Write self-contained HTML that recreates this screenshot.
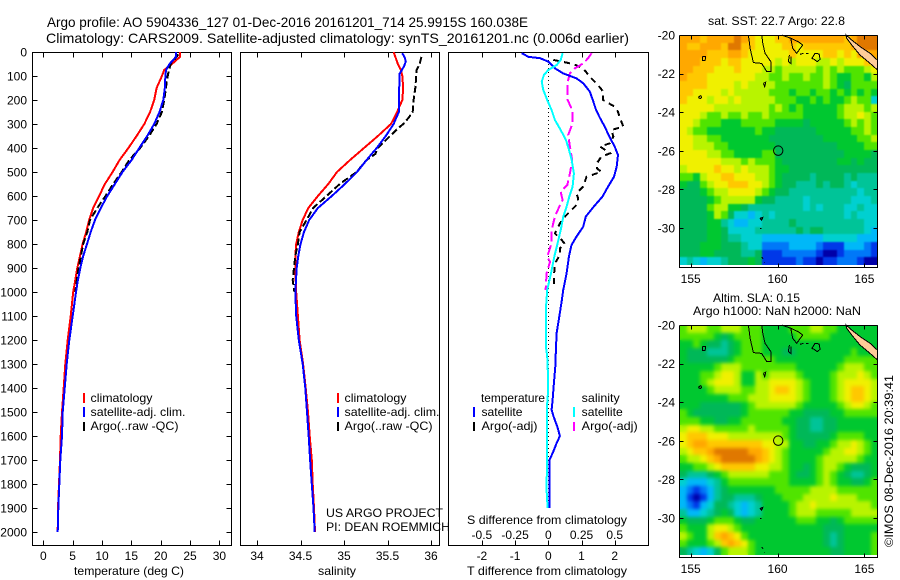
<!DOCTYPE html>
<html>
<head>
<meta charset="utf-8">
<title>Argo profile 5904336_127</title>
<style>
html,body{margin:0;padding:0;background:#fff;}
svg{display:block;font-family:"Liberation Sans",sans-serif;font-size:12px;fill:#000;}
</style>
</head>
<body>
<svg id="chart" xmlns="http://www.w3.org/2000/svg" width="900" height="580" viewBox="0 0 900 580">
<defs>
<filter id="softSla" x="0" y="0" width="1" height="1" color-interpolation-filters="sRGB"><feGaussianBlur in="SourceGraphic" stdDeviation="1.8" result="b"/><feMerge><feMergeNode in="SourceGraphic"/><feMergeNode in="b"/></feMerge></filter>
<filter id="softSst" x="0" y="0" width="1" height="1" color-interpolation-filters="sRGB"><feGaussianBlur in="SourceGraphic" stdDeviation="0.7" result="b"/><feMerge><feMergeNode in="SourceGraphic"/><feMergeNode in="b"/></feMerge></filter>
</defs>
<rect x="0" y="0" width="900" height="580" fill="#fff"/>
<text x="47" y="27" font-size="14" textLength="481" lengthAdjust="spacingAndGlyphs">Argo profile: AO 5904336_127 01-Dec-2016 20161201_714 25.9915S 160.038E</text>
<text x="46" y="43" font-size="14" textLength="583" lengthAdjust="spacingAndGlyphs">Climatology: CARS2009. Satellite-adjusted climatology: synTS_20161201.nc (0.006d earlier)</text>

<text x="74" y="575" textLength="110" lengthAdjust="spacingAndGlyphs">temperature (deg C)</text>
<text x="318" y="575" textLength="38" lengthAdjust="spacingAndGlyphs">salinity</text>
<text x="467" y="575" textLength="160" lengthAdjust="spacingAndGlyphs">T difference from climatology</text>
<text x="467" y="524" textLength="160" lengthAdjust="spacingAndGlyphs">S difference from climatology</text>

<g>
<rect x="83" y="393" width="2" height="10" fill="#f00"/>
<rect x="83" y="407" width="2" height="10" fill="#00f"/>
<rect x="83" y="422" width="2" height="9" fill="#000"/>
<text x="90.5" y="402" textLength="62" lengthAdjust="spacingAndGlyphs">climatology</text>
<text x="90.5" y="416" textLength="95" lengthAdjust="spacingAndGlyphs">satellite-adj. clim.</text>
<text x="90.5" y="430" textLength="88" lengthAdjust="spacingAndGlyphs">Argo(..raw -QC)</text>
</g>
<g>
<rect x="337" y="393" width="2" height="10" fill="#f00"/>
<rect x="337" y="407" width="2" height="10" fill="#00f"/>
<rect x="337" y="422" width="2" height="9" fill="#000"/>
<text x="344.5" y="402" textLength="62" lengthAdjust="spacingAndGlyphs">climatology</text>
<text x="344.5" y="416" textLength="95" lengthAdjust="spacingAndGlyphs">satellite-adj. clim.</text>
<text x="344.5" y="430" textLength="88" lengthAdjust="spacingAndGlyphs">Argo(..raw -QC)</text>
</g>
<text x="326" y="517" textLength="117" lengthAdjust="spacingAndGlyphs">US ARGO PROJECT</text>
<text x="326" y="531" textLength="124" lengthAdjust="spacingAndGlyphs">PI: DEAN ROEMMICH</text>

<g id="plots"></g>

<g>
<text x="481" y="402" textLength="64" lengthAdjust="spacingAndGlyphs">temperature</text>
<text x="481.5" y="416" textLength="41" lengthAdjust="spacingAndGlyphs">satellite</text>
<text x="481.5" y="430" textLength="56" lengthAdjust="spacingAndGlyphs">Argo(-adj)</text>
<rect x="473" y="407" width="2" height="10" fill="#00f"/>
<rect x="473" y="422" width="2" height="9" fill="#000"/>
<text x="581.7" y="402" textLength="38" lengthAdjust="spacingAndGlyphs">salinity</text>
<text x="581.7" y="416" textLength="41" lengthAdjust="spacingAndGlyphs">satellite</text>
<text x="581.7" y="430" textLength="56" lengthAdjust="spacingAndGlyphs">Argo(-adj)</text>
<rect x="573" y="407" width="2" height="10" fill="#0ff"/>
<rect x="573" y="422" width="2" height="9" fill="#f0f"/>
</g>

<g id="maps"></g>

<text x="708" y="25" textLength="137" lengthAdjust="spacingAndGlyphs">sat. SST: 22.7 Argo: 22.8</text>
<text x="713" y="302" textLength="87" lengthAdjust="spacingAndGlyphs">Altim. SLA: 0.15</text>
<text x="693" y="315" textLength="168" lengthAdjust="spacingAndGlyphs">Argo h1000: NaN h2000: NaN</text>
<text transform="translate(893,547) rotate(-90)" x="0" y="0" textLength="172" lengthAdjust="spacingAndGlyphs">©IMOS 08-Dec-2016 20:39:41</text>
</svg>

<script>
// ---------- profile data ----------
const depthTicks = [0,100,200,300,400,500,600,700,800,900,1000,1100,1200,1300,1400,1500,1600,1700,1800,1900,2000];
const tempTicks = [0,5,10,15,20,25,30];
const salTicks = [34,34.5,35,35.5,36];
const tDiffTicks = [-2,-1,0,1,2];
const sDiffTicks = [-0.5,-0.25,0,0.25,0.5];

const climDepths = [0,20,50,75,100,150,200,250,300,350,400,450,500,550,600,650,700,750,800,850,900,950,1000,1100,1200,1300,1400,1500,1600,1700,1800,1900,2000];
const climTemp = [23.3,23.3,21.9,20.6,20.2,19.3,18.9,18.2,17.2,15.9,14.5,13.0,11.8,10.5,9.5,8.5,7.8,7.3,6.7,6.25,5.8,5.45,5.1,4.67,4.15,3.75,3.47,3.19,2.96,2.84,2.67,2.5,2.45];
const satTemp = [22.6,22.6,21.5,20.9,20.8,20.7,20.45,19.8,18.9,17.7,16.35,15.05,13.5,12.2,10.9,9.8,8.8,8.07,7.44,6.8,6.3,5.9,5.57,5.0,4.43,3.98,3.64,3.3,3.19,2.9,2.73,2.56,2.45];
const climSal = [35.57,35.59,35.62,35.655,35.67,35.68,35.67,35.61,35.54,35.39,35.23,35.07,34.92,34.82,34.70,34.59,34.525,34.48,34.45,34.44,34.44,34.445,34.45,34.47,34.49,34.53,34.56,34.586,34.606,34.63,34.64,34.655,34.667];
const satSalDepths = [5,25,40,60,90,150,200,250,300,350,400,450,500,550,600,650,700,750,800,850,900,1000,1100,1200,1300,1400,1500,1600,1700,1800,1900,2000];
const satSal = [35.67,35.70,35.71,35.69,35.64,35.635,35.635,35.63,35.57,35.48,35.376,35.26,35.15,35.01,34.86,34.70,34.6,34.54,34.50,34.475,34.456,34.44,34.45,34.48,34.525,34.555,34.575,34.594,34.61,34.63,34.65,34.663];

const argoTempDepths = [10,30,50,75,100,125,150,200,250,300,350,400,450,500,550,600,650,700,750,800,850,900,950,1000];
const argoTemp = [23.0,22.4,21.7,21.4,21.2,21.0,20.9,20.6,20.2,19.3,18.0,16.5,14.65,13.35,11.9,10.6,9.2,7.95,7.5,6.8,6.4,6.0,5.7,5.45];
const argoSalDepths = [20,50,75,100,150,200,250,275,300,325,350,400,425,450,500,550,600,650,700,750,800,850,900,950,1000];
const argoSal = [35.89,35.87,35.835,35.83,35.82,35.80,35.79,35.74,35.68,35.6,35.53,35.39,35.36,35.26,35.145,34.95,34.80,34.645,34.57,34.49,34.47,34.44,34.425,34.41,34.43];

const tSatDepths = [5,20,26,40,68,89,110,130,165,200,242,276,311,353,394,429,478,520,561,603,644,686,728,769,804,853,922,992,1033,1102,1172,1241,1311,1380,1450,1491,1519,1561,1600,1630,1672,1700,1769,1901];
const tSatDiff = [-0.80,-0.6,-0.25,0,0.2,0.45,0.85,1.05,1.25,1.34,1.44,1.56,1.7,1.84,2.0,2.1,2.06,1.98,1.8,1.63,1.37,1.13,1.05,0.85,0.7,0.62,0.55,0.45,0.41,0.33,0.25,0.23,0.21,0.17,0.13,0.10,0.16,0.27,0.35,0.25,0.13,0.03,0.04,0.04];
const tArgoDepths = [33,50,68,103,138,165,200,228,249,276,311,325,353,380,394,422,436,464,485,499,520,561,589,610,638,658,686,714,756,783,800,818,846,881,936,985];
const tArgoDiff = [0.15,0.75,1.05,1.25,1.5,1.65,1.65,2.0,2.1,2.16,2.26,1.9,1.96,1.86,1.56,1.86,1.6,1.46,1.46,1.6,1.15,1.05,0.85,0.9,0.85,0.7,0.5,0.35,0.2,0.4,0.5,0.35,0.35,0.2,0.17,0.17];
const sSatDepths = [5,33,54,75,96,124,158,200,242,283,325,367,408,450,506,561,603,644,686,742,797,853,922,992,1068,1102,1227,1269,1338,1422,1477,1589,1686,1825,1901];
const sSatDiff = [0.108,0.093,0.063,0,-0.033,-0.05,-0.038,-0.008,0.025,0.05,0.093,0.133,0.156,0.176,0.193,0.183,0.158,0.138,0.113,0.093,0.07,0.045,0.02,-0.008,-0.018,-0.018,-0.018,-0.008,-0.003,-0.003,-0.01,-0.008,-0.01,-0.013,-0.005];
const sArgoDepths = [5,26,47,68,89,124,200,242,297,346,394,450,506,554,582,617,644,686,742,797,853,874,922,992];
const sArgoDiff = [0.326,0.30,0.264,0.2,0.163,0.146,0.146,0.18,0.183,0.15,0.163,0.18,0.163,0.143,0.093,0.108,0.083,0.05,0.025,0.025,-0.008,0.013,-0.013,-0.02];

// ---------- map data (colour class per 0.4 degree cell, north to south) ----------
const mapPalette = ['#0000a8','#0038e8','#0078f8','#00b8f8','#00d0d0','#00c498','#00b858','#00c830','#50e400','#b8f400','#f0f000','#ffc800','#ffa800','#e07800'];
const sstLevels = [
[12,12,12,11,12,12,12,12,13,12,11,10,10,10,11,11,12,12,12,12,12,12,12,12,11,12,13,13,13],
[12,11,11,12,12,12,11,13,13,11,11,10,10,10,10,11,11,10,11,11,11,11,11,11,11,12,13,13,13],
[12,12,12,12,11,11,11,12,12,11,10,10,10,10,10,10,11,10,10,10,10,11,11,10,11,10,12,12,12],
[12,12,12,11,11,11,10,11,11,10,10,10,10,10,9,10,9,10,10,10,9,9,10,9,10,10,10,11,11],
[12,12,11,11,11,10,10,10,11,10,10,10,9,9,8,9,9,9,9,9,8,9,8,9,8,8,8,9,10],
[12,11,11,11,10,10,10,10,10,10,10,9,9,8,8,9,8,8,9,8,8,9,8,7,7,8,8,7,9],
[11,11,11,11,10,10,10,10,9,10,9,9,9,9,8,8,8,8,8,8,8,9,8,7,6,8,8,8,8],
[11,11,10,10,10,10,9,10,9,9,9,9,9,8,8,8,7,8,8,7,8,8,7,8,7,8,7,8,7],
[11,10,10,10,9,10,10,9,10,9,9,9,9,9,8,8,8,7,7,8,7,8,7,7,8,9,8,8,4],
[10,10,10,10,10,9,9,9,9,9,9,9,9,8,9,8,7,8,7,7,7,7,7,8,9,9,9,8,9],
[10,10,10,9,8,8,9,8,8,9,8,8,9,8,8,8,8,8,7,7,7,7,7,8,9,9,10,9,8],
[10,10,9,8,8,8,7,7,7,8,8,8,8,8,7,7,7,7,6,7,7,7,7,7,8,9,8,9,8],
[10,9,8,8,7,7,7,7,7,7,7,8,7,7,6,6,6,6,6,6,7,7,7,7,7,8,8,9,8],
[10,10,9,9,8,8,7,7,7,7,7,7,7,6,6,6,6,6,6,6,6,7,7,7,7,7,8,8,9],
[10,10,9,9,9,8,8,7,7,7,7,7,7,7,6,6,6,6,6,6,6,6,6,7,7,7,7,8,8],
[10,10,10,10,9,9,8,8,7,7,7,7,8,8,6,6,6,6,6,6,6,6,6,6,7,7,7,7,6],
[10,10,10,10,10,10,9,9,9,8,9,8,8,8,7,6,6,6,6,6,6,6,6,7,7,6,7,6,6],
[9,10,10,10,10,11,10,10,9,10,9,9,9,8,7,7,6,6,6,6,6,6,6,6,6,6,6,6,6],
[8,8,7,9,10,10,11,11,10,10,10,9,9,8,7,6,6,6,6,5,6,6,6,6,5,6,5,5,5],
[7,6,6,8,9,10,10,11,11,11,10,10,9,8,7,6,6,5,5,5,6,5,6,6,5,4,5,5,5],
[6,6,6,7,8,9,9,10,10,10,10,9,8,7,6,6,5,5,5,5,5,5,5,5,5,5,4,5,5],
[6,6,6,6,7,8,9,9,9,9,9,7,6,6,5,5,5,5,4,5,5,5,5,5,5,4,4,4,5],
[6,6,6,6,8,9,9,7,7,6,5,5,5,5,5,5,5,5,4,5,4,5,5,5,4,4,5,4,4],
[6,6,6,6,7,9,8,6,4,4,3,4,5,4,5,5,5,5,5,5,5,5,5,5,4,5,4,4,4],
[6,6,6,6,7,7,5,4,3,3,4,4,5,5,5,5,6,5,5,5,5,5,5,5,5,5,5,4,4],
[6,6,6,6,7,7,6,4,4,4,4,5,5,5,5,5,5,6,5,6,6,5,5,5,5,5,5,4,3],
[6,6,6,6,7,7,6,5,5,4,4,4,3,3,3,3,3,3,3,3,3,4,4,4,4,4,3,3,3],
[6,6,6,7,7,7,6,6,6,5,4,4,2,2,2,2,3,3,3,3,2,1,1,1,3,3,3,2,1],
[6,6,6,7,7,6,6,6,6,5,5,6,1,1,1,2,2,2,2,2,1,0,0,1,2,2,2,2,1],
[4,5,4,3,4,4,5,6,6,6,7,6,1,1,1,1,1,2,1,1,0,1,1,2,2,2,1,0,0]
];
const slaLevels = [
[8,9,9,9,8,8,9,9,9,8,8,8,7,7,7,7,8,8,8,9,9,8,8,7,7,7,7,7,7],
[8,8,8,8,8,7,6,7,8,8,8,8,7,7,7,7,7,8,8,8,8,8,7,7,7,7,7,7,7],
[7,7,8,7,6,6,5,6,7,8,8,8,7,7,7,7,7,7,7,7,7,7,7,7,7,7,7,7,7],
[7,6,6,6,5,5,5,6,7,8,8,8,7,7,7,6,6,7,7,7,7,7,7,7,7,8,7,7,7],
[7,6,6,6,6,6,6,7,8,8,8,8,8,8,7,7,7,7,7,7,7,7,7,7,8,8,8,8,8],
[7,7,7,7,7,8,9,9,9,8,8,8,8,8,8,8,8,7,7,7,7,7,7,8,9,9,9,8,8],
[7,7,7,8,8,9,10,10,9,7,7,9,8,9,9,9,9,8,7,7,7,7,8,9,9,9,10,9,8],
[7,7,7,8,9,10,10,10,9,7,7,9,9,10,10,10,10,9,8,7,7,7,8,9,10,10,10,10,9],
[7,7,7,7,8,9,9,9,9,8,8,9,9,10,11,11,10,9,8,7,7,7,8,9,10,11,11,10,9],
[7,7,7,7,7,7,7,8,8,8,9,9,9,10,10,10,10,9,8,7,7,7,8,9,10,11,11,10,9],
[7,7,7,6,6,6,6,6,6,7,8,9,9,9,9,9,9,8,7,7,7,7,7,8,9,10,10,9,8],
[8,7,6,6,6,6,6,6,6,7,8,8,8,8,8,8,7,7,6,6,6,6,7,7,8,8,8,8,8],
[8,8,8,7,7,6,6,7,7,8,8,8,8,8,8,7,7,6,6,5,5,6,6,7,7,7,7,7,7],
[9,10,10,9,9,8,8,8,8,8,9,8,8,8,8,8,7,6,6,5,5,6,6,7,7,7,7,7,7],
[10,11,11,11,10,10,10,9,9,9,9,9,9,9,9,8,7,6,6,6,6,6,7,8,8,8,8,7,7],
[10,11,12,12,11,11,11,11,11,11,11,11,10,10,9,9,7,7,6,6,7,7,8,9,9,10,9,8,7],
[9,10,11,11,12,13,13,13,13,13,12,12,11,10,9,8,7,7,7,7,7,8,9,9,10,10,9,8,7],
[8,9,9,10,11,12,13,13,13,13,13,12,11,10,9,8,7,7,7,7,8,9,9,9,9,9,8,7,7],
[7,7,8,8,9,10,11,11,11,11,11,10,10,9,9,8,7,7,6,7,8,9,9,8,7,6,6,6,7],
[6,5,5,5,6,7,8,9,9,9,9,9,9,8,8,8,7,6,6,7,8,9,8,7,6,5,5,6,7],
[4,3,3,3,4,5,7,8,8,8,8,8,8,8,8,8,7,7,7,7,8,9,8,7,7,6,6,7,8],
[3,2,1,2,3,5,6,7,7,7,7,7,7,7,8,8,8,8,8,9,9,9,9,8,8,8,8,8,8],
[3,1,0,1,3,5,6,6,5,5,5,6,7,7,7,8,8,8,9,9,9,9,10,9,9,9,8,8,8],
[3,2,1,3,4,6,6,5,4,3,4,5,7,7,7,7,8,9,9,10,9,9,9,9,9,9,9,9,8],
[5,3,3,4,5,6,7,6,4,3,4,5,7,7,7,7,8,9,9,9,8,8,8,8,8,9,9,9,9],
[7,6,6,6,7,8,8,8,7,6,6,7,7,7,7,7,7,8,8,8,7,7,6,7,8,8,8,8,8],
[8,7,7,7,9,10,10,9,8,7,7,7,7,7,7,7,7,7,7,7,7,6,6,6,7,7,7,7,7],
[9,8,7,7,9,11,12,11,10,8,7,7,7,7,7,7,7,7,7,7,7,6,5,6,7,7,7,7,8],
[8,7,7,7,8,9,11,12,11,10,8,7,7,7,7,7,7,7,7,7,7,6,5,6,7,7,7,7,8],
[6,5,4,3,4,6,8,9,9,9,8,7,7,7,7,7,7,7,7,7,7,7,6,6,7,7,7,7,8]
];
const lonTicks = [155,160,165];
const latTicks = [-20,-22,-24,-26,-28,-30];
const profileLon = 160.038;
const profileLat = -25.9915;
const coastLines = [
 [[158.32,-20],[158.42,-20.69],[158.61,-21.43],[159.09,-21.47],[159.38,-21.9],[159.61,-21.9],[159.61,-21.38],[159.28,-20.95],[159.15,-20.43],[159.09,-20]],
 [[160.24,-20],[160.76,-20.17],[160.87,-20.69],[161.1,-20.95],[161.45,-20.52],[161.2,-20.35],[160.76,-20.17]],
 [[160.68,-21.04],[160.62,-21.38],[160.76,-21.47],[160.76,-21.12]],
 [[161.3,-21.0],[161.49,-20.95]],
 [[161.64,-20.95],[161.78,-20.95]],
 [[161.97,-21.21],[162.16,-20.95],[162.39,-20.98],[162.45,-21.26],[162.29,-21.38],[162.1,-21.26],[161.97,-21.21]],
 [[155.67,-21.12],[155.86,-21.12],[155.83,-21.33],[155.69,-21.33],[155.67,-21.12]],
 [[155.44,-23.23],[155.58,-23.14],[155.63,-23.23],[155.54,-23.3],[155.44,-23.23]],
 [[159.18,-22.5],[159.32,-22.45],[159.26,-22.68],[159.18,-22.5]],
 [[158.99,-29.5],[159.15,-29.45],[159.09,-29.59],[158.99,-29.5]],
 [[158.99,-30.02],[159.09,-30.02]],
 [[159.09,-31.52],[159.17,-31.59]],
 [[159.24,-31.8],[159.28,-31.8]]
];
const landOutline = [[163.94,-20],[164.27,-20.26],[164.75,-20.6],[165.33,-20.95],[165.75,-21.3],[165.75,-21.81],[165.33,-21.47],[164.75,-21.04],[164.27,-20.52],[163.98,-20.17]];

// ---------- scales ----------
const NS = 'http://www.w3.org/2000/svg';
const plotTop = 52, plotBottom = 545;
const depthY = d => plotTop + d * 0.24;
const tempX = v => 43.3 + 5.87 * v;
const salX = v => 257 + 87 * (v - 34);
const tDiffX = v => 548.3 + 33.2 * v;
const sDiffX = v => 548.3 + 132.8 * v;
const mapX = lon => 690.7 + 17.37 * (lon - 155);
const mapLatY = (lat, top) => top + 19.3 * (-20 - lat);
const px = v => Math.round(v) + 0.5;

function make(parent, tag, attrs, content) {
  const el = document.createElementNS(NS, tag);
  for (const k in attrs) el.setAttribute(k, attrs[k]);
  if (content !== undefined) el.textContent = content;
  parent.appendChild(el);
  return el;
}
function drawTick(parent, x1, y1, x2, y2) {
  const el = make(parent, 'line', {x1, y1, x2, y2, stroke: '#000', 'stroke-width': 1, 'shape-rendering': 'crispEdges'});
  
  
}
function drawLabel(parent, x, y, anchor, text) {
  const el = make(parent, 'text', {x, y, 'text-anchor': anchor}, text);
  
  
}
function drawProfile(parent, depths, values, xScale, color, width, dash) {
  const pts = values.map((v, i) => xScale(v).toFixed(1) + ',' + depthY(depths[i]).toFixed(1)).join(' ');
  const attrs = {points: pts, fill: 'none', stroke: color, 'stroke-width': width, 'shape-rendering': 'crispEdges'};
  if (dash) attrs['stroke-dasharray'] = dash;
  return make(parent, 'polyline', attrs);
}

const plots = document.getElementById('plots');
const panels = [
  {name: 'temperature-panel', x0: 32, x1: 231},
  {name: 'salinity-panel', x0: 240, x1: 439},
  {name: 'difference-panel', x0: 448, x1: 648}
];
const panelGroups = panels.map(function (p) {
  const g = make(plots, 'g', {});
  
  
  const frame = make(g, 'rect', {x: p.x0 + 0.5, y: plotTop + 0.5, width: p.x1 - p.x0, height: plotBottom - plotTop, fill: 'none', stroke: '#000', 'stroke-width': 1, 'shape-rendering': 'crispEdges'});
  
  
  return g;
});

// depth axis
depthTicks.forEach(function (d) {
  const y = px(depthY(d));
  drawTick(panelGroups[0], 32.5, y, 37.5, y);
  drawTick(panelGroups[0], 226.5, y, 231.5, y);
  drawLabel(panelGroups[0], 27, depthY(d) + 4.5, 'end', String(d));
});
// x axes
function xAxis(g, ticks, scale, labelY) {
  ticks.forEach(function (t) {
    const x = px(scale(t));
    drawTick(g, x, plotTop + 0.5, x, plotTop + 5.5);
    drawTick(g, x, plotBottom + 0.5, x, plotBottom - 4.5);
    drawLabel(g, scale(t), labelY, 'middle', String(t));
  });
}
xAxis(panelGroups[0], tempTicks, tempX, 560);
xAxis(panelGroups[1], salTicks, salX, 560);
xAxis(panelGroups[2], tDiffTicks, tDiffX, 560);
sDiffTicks.forEach(function (t) {
  drawLabel(panelGroups[2], sDiffX(t), 539, 'middle', String(t));
});

// zero line in difference panel
const zeroLine = make(panelGroups[2], 'line', {x1: px(tDiffX(0)), y1: depthY(0), x2: px(tDiffX(0)), y2: depthY(1900), stroke: '#000', 'stroke-width': 1, 'stroke-dasharray': '1 3', 'shape-rendering': 'crispEdges'});



// temperature series
let s;
s = drawProfile(panelGroups[0], climDepths, climTemp, tempX, '#f00', 2);


s = drawProfile(panelGroups[0], argoTempDepths, argoTemp, tempX, '#000', 2, '7 3');


s = drawProfile(panelGroups[0], climDepths, satTemp, tempX, '#00f', 2);



// salinity series
s = drawProfile(panelGroups[1], climDepths, climSal, salX, '#f00', 2);


s = drawProfile(panelGroups[1], argoSalDepths, argoSal, salX, '#000', 2, '7 3');


s = drawProfile(panelGroups[1], satSalDepths, satSal, salX, '#00f', 2);



// difference series
s = drawProfile(panelGroups[2], tArgoDepths, tArgoDiff, tDiffX, '#000', 2, '6 5');


s = drawProfile(panelGroups[2], sArgoDepths, sArgoDiff, sDiffX, '#f0f', 2, '10 4');


s = drawProfile(panelGroups[2], tSatDepths, tSatDiff, tDiffX, '#00f', 2);


s = drawProfile(panelGroups[2], sSatDepths, sSatDiff, sDiffX, '#0ff', 2);



// ---------- maps ----------
const mapsRoot = document.getElementById('maps');
const lonStart = 154.37, lonStep = 0.3935, latStart = -20, latStep = 0.3972;
function drawMap(levels, top, name, lonLabelY, softFilter) {
  const g = make(mapsRoot, 'g', {});
  
  
  const cells = make(g, 'g', {'shape-rendering': 'crispEdges', filter: 'url(#' + softFilter + ')'});
  
  
  levels.forEach(function (row, r) {
    row.forEach(function (level, c) {
      const x0 = Math.round(mapX(lonStart + c * lonStep));
      const x1 = Math.round(mapX(lonStart + (c + 1) * lonStep));
      const y0 = Math.round(mapLatY(latStart - r * latStep, top));
      const y1 = Math.round(mapLatY(latStart - (r + 1) * latStep, top));
      const cell = make(cells, 'rect', {x: x0, y: y0, width: x1 - x0, height: y1 - y0, fill: mapPalette[level]});
      
      
    });
  });
  const land = make(g, 'polygon', {
    points: landOutline.map(p => mapX(p[0]).toFixed(1) + ',' + mapLatY(p[1], top).toFixed(1)).join(' '),
    fill: '#ffcc99', stroke: '#000', 'stroke-width': 1, 'shape-rendering': 'crispEdges'
  });
  
  
  coastLines.forEach(function (line) {
    const l = make(g, 'polyline', {
      points: line.map(p => mapX(p[0]).toFixed(1) + ',' + mapLatY(p[1], top).toFixed(1)).join(' '),
      fill: 'none', stroke: '#000', 'stroke-width': 1, 'shape-rendering': 'crispEdges'
    });
    
    
  });
  const marker = make(g, 'circle', {cx: mapX(profileLon), cy: mapLatY(profileLat, top), r: 4.7, fill: 'none', stroke: '#000', 'stroke-width': 1});
  
  
  const bottom = top + 232;
  const frame = make(g, 'path', {
    d: 'M679.5 ' + top + '.5 H877.5 M679.5 ' + top + '.5 V' + bottom + '.5 H877.5 V' + top + '.5',
    fill: 'none', stroke: '#000', 'stroke-width': 1, 'shape-rendering': 'crispEdges'
  });
  
  
  lonTicks.forEach(function (lon) {
    const x = px(mapX(lon));
    drawTick(g, x, top + 0.5, x, top + 4.5);
    drawTick(g, x, bottom + 0.5, x, bottom - 3.5);
    drawLabel(g, mapX(lon), lonLabelY, 'middle', String(lon));
  });
  latTicks.forEach(function (lat) {
    const y = px(mapLatY(lat, top));
    drawTick(g, 679.5, y, 683.5, y);
    drawTick(g, 873.5, y, 877.5, y);
    drawLabel(g, 675, mapLatY(lat, top) + 4.5, 'end', String(lat));
  });
}
drawMap(sstLevels, 35, 'sst-map', 283, 'softSst');
drawMap(slaLevels, 325, 'sla-map', 573, 'softSla');
</script>
</body>
</html>
